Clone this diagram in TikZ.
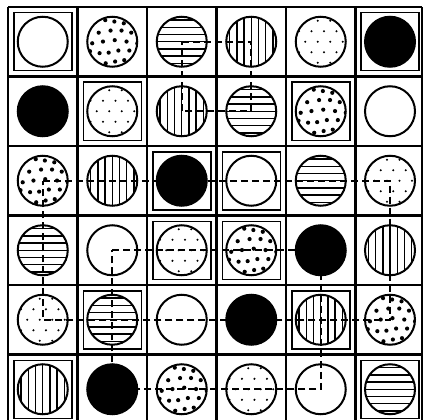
\documentclass[tikz,border=0pt]{standalone}
\usetikzlibrary{calc}
\begin{document}
\begin{tikzpicture}[x=1pt,y=-1pt,
  gridline/.style={line width=2.1pt},
  framebox/.style={draw, line width=1.5pt, minimum size=58pt, inner sep=0pt},
  disc/.style={circle, draw, line width=2pt, minimum size=50pt, inner sep=0pt, fill=white},
  wdisc/.style={disc},
  bdisc/.style={disc, fill=black},
  hdisc/.style={disc, path picture={\foreach \k in {-3,...,3} \draw[black, line width=1.4pt] ([shift={(-30pt,\k*7.2pt)}]path picture bounding box.center) -- ++(60pt,0pt);}},
  vdisc/.style={disc, path picture={\foreach \k in {-3,...,3} \draw[black, line width=1.4pt] ([shift={(\k*7.2pt,-30pt)}]path picture bounding box.center) -- ++(0pt,60pt);}},
  fdisc/.style={disc, path picture={\foreach \r in {-2,...,2} \foreach \c in {-2,...,2} {\fill[black] ([shift={({\c*12.5pt+mod(\r+10,2)*6.2pt-3pt},{\r*10.5pt})}]path picture bounding box.center) circle (1.2pt);}}},
  cdisc/.style={disc, path picture={\foreach \r in {-2,...,2} \foreach \c in {-3,...,2} {\fill[black] ([shift={({\c*10.5pt+mod(\r+10,2)*5.2pt+2.5pt+1.6pt*sin(\r*97+\c*53)},{\r*10pt+1.6pt*cos(\r*41+\c*83)})}]path picture bounding box.center) circle (2.1pt);}}},
  loopline/.style={line width=2pt, dash pattern=on 7pt off 4pt}
]
\useasboundingbox (0,0) rectangle (423,420);
\fill[white] (0,0) rectangle (423,420);
% grid
\foreach \gx in {8,77.5,147,216.5,286,355.5,422.3} \draw[gridline] (\gx,7) -- (\gx,426);
\foreach \gy in {7,76.5,146,215.5,285,354.5} \draw[gridline] (8,\gy) -- (422.3,\gy);
% frames
\node[framebox] (f11) at (42.75,41.75) {};
\node[framebox] (f16) at (390,41.75) {};
\node[framebox] (f22) at (112.25,111.25) {};
\node[framebox] (f25) at (320.75,111.25) {};
\node[framebox] (f33) at (181.75,180.75) {};
\node[framebox] (f34) at (251.25,180.75) {};
\node[framebox] (f43) at (181.75,250.25) {};
\node[framebox] (f44) at (251.25,250.25) {};
\node[framebox] (f52) at (112.25,319.75) {};
\node[framebox] (f55) at (320.75,319.75) {};
\node[framebox] (f61) at (42.75,389.25) {};
\node[framebox] (f66) at (390,389.25) {};
% row 1
\node[wdisc] (c11) at (42.75,41.75) {};
\node[cdisc] (c12) at (112.25,41.75) {};
\node[hdisc] (c13) at (181.75,41.75) {};
\node[vdisc] (c14) at (251.25,41.75) {};
\node[fdisc] (c15) at (320.75,41.75) {};
\node[bdisc] (c16) at (390,41.75) {};
% row 2
\node[bdisc] (c21) at (42.75,111.25) {};
\node[fdisc] (c22) at (112.25,111.25) {};
\node[vdisc] (c23) at (181.75,111.25) {};
\node[hdisc] (c24) at (251.25,111.25) {};
\node[cdisc] (c25) at (320.75,111.25) {};
\node[wdisc] (c26) at (390,111.25) {};
% row 3
\node[cdisc] (c31) at (42.75,180.75) {};
\node[vdisc] (c32) at (112.25,180.75) {};
\node[bdisc] (c33) at (181.75,180.75) {};
\node[wdisc] (c34) at (251.25,180.75) {};
\node[hdisc] (c35) at (320.75,180.75) {};
\node[fdisc] (c36) at (390,180.75) {};
% row 4
\node[hdisc] (c41) at (42.75,250.25) {};
\node[wdisc] (c42) at (112.25,250.25) {};
\node[fdisc] (c43) at (181.75,250.25) {};
\node[cdisc] (c44) at (251.25,250.25) {};
\node[bdisc] (c45) at (320.75,250.25) {};
\node[vdisc] (c46) at (390,250.25) {};
% row 5
\node[fdisc] (c51) at (42.75,319.75) {};
\node[hdisc] (c52) at (112.25,319.75) {};
\node[wdisc] (c53) at (181.75,319.75) {};
\node[bdisc] (c54) at (251.25,319.75) {};
\node[vdisc] (c55) at (320.75,319.75) {};
\node[cdisc] (c56) at (390,319.75) {};
% row 6
\node[vdisc] (c61) at (42.75,389.25) {};
\node[bdisc] (c62) at (112.25,389.25) {};
\node[cdisc] (c63) at (181.75,389.25) {};
\node[fdisc] (c64) at (251.25,389.25) {};
\node[wdisc] (c65) at (320.75,389.25) {};
\node[hdisc] (c66) at (390,389.25) {};
% loops
\draw[loopline] (c13.center) -- (c14.center) -- (c24.center) -- (c23.center) -- cycle;
\draw[loopline] (c31.center) -- (c32.center) -- (c33.center) -- (c34.center) -- (c35.center) -- (c36.center)
  -- (c46.center) -- (c56.center) -- (c55.center) -- (c54.center) -- (c53.center) -- (c52.center)
  -- (c51.center) -- (c41.center) -- cycle;
\draw[loopline] (c42.center) -- (c43.center) -- (c44.center) -- (c45.center) -- (c55.center) -- (c65.center)
  -- (c64.center) -- (c63.center) -- (c62.center) -- (c52.center) -- cycle;
\end{tikzpicture}
\end{document}
